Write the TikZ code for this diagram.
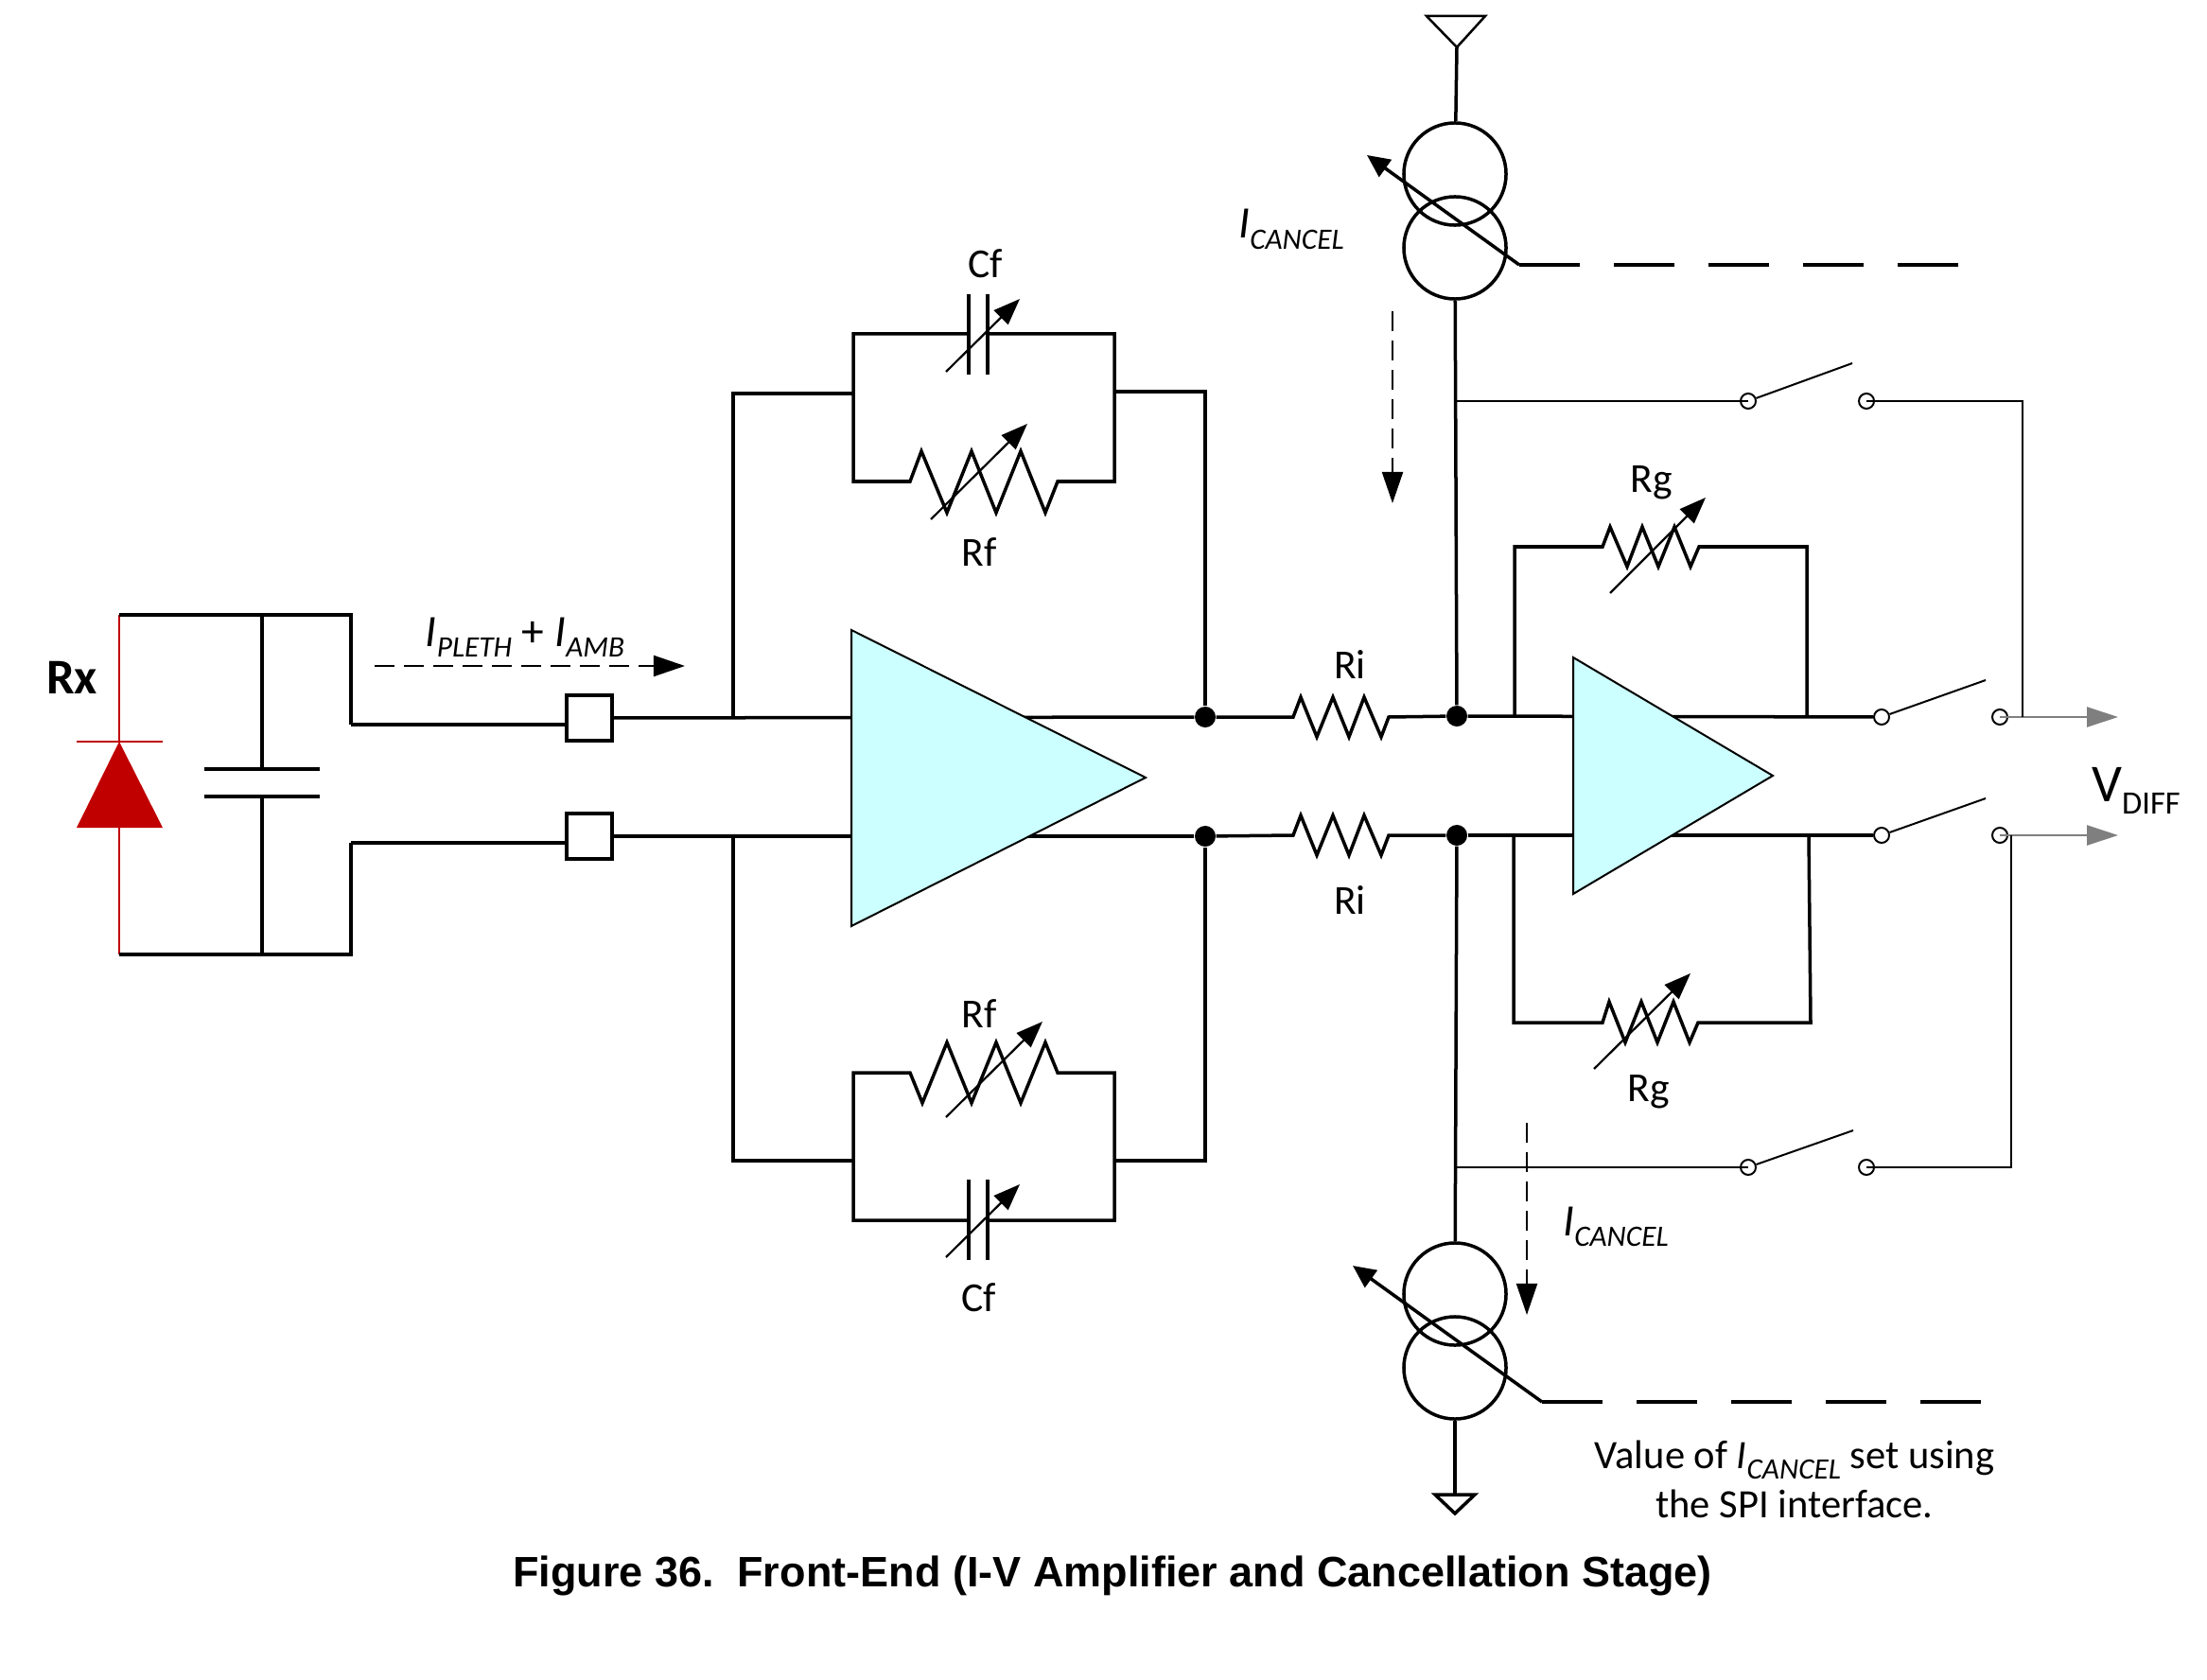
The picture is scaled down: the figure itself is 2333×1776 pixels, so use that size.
\documentclass[tikz,border=0pt]{standalone}
\usepackage{fontspec}
\setmainfont{Carlito}
\newfontfamily\capfont{Liberation Sans}
\usetikzlibrary{arrows.meta}
\definecolor{diodered}{RGB}{192,0,0}
\definecolor{ampcyan}{RGB}{204,255,255}
\definecolor{outgray}{RGB}{127,127,127}
\newcommand{\isub}[2]{\textit{#1}\raisebox{-0.5ex}{\fontsize{8.9}{10}\selectfont\textit{#2}}}
\tikzset{
  wire/.style={line width=.35mm,line join=miter},
  thinwire/.style={line width=.12mm},
  redwire/.style={line width=.25mm,draw=diodered},
  amp/.style={line width=.2mm,fill=ampcyan,line join=miter},
  pad/.style={draw,line width=.35mm,fill=white,minimum width=4.8mm,minimum height=4.8mm,inner sep=0},
  dot/.style={circle,fill=black,minimum size=2.2mm,inner sep=0},
  term/.style={circle,draw,line width=.2mm,fill=white,minimum size=1.6mm,inner sep=0},
  source/.style={circle,draw,line width=.35mm,minimum size=10.8mm,inner sep=0},
  adjust/.style={line width=.22mm,-{Triangle[length=2.8mm,width=2.1mm]}},
  control/.style={line width=.35mm,-{Triangle[length=2.4mm,width=2.2mm]}},
  ctrldash/.style={line width=.35mm,dash pattern=on 6.4mm off 3.6mm},
  current/.style={line width=.2mm,dash pattern=on 2.1mm off 1mm,-{Triangle[length=3.3mm,width=2.2mm]}},
  outarrow/.style={line width=.25mm,draw=outgray,-{Triangle[length=3.3mm,width=2.1mm]}},
  lbl/.style={inner sep=0,anchor=base,font=\fontsize{12.4}{15}\selectfont},
  curlbl/.style={inner sep=0,anchor=base,font=\fontsize{13.5}{16}\selectfont}
}
\begin{document}
\begin{tikzpicture}[x=0.01cm,y=-0.01cm]
    \useasboundingbox (0,0) rectangle (2333,1776);

    \coordinate (tl) at (126,650);
    \coordinate (tr) at (371,650);
    \coordinate (bl) at (126,1009);
    \coordinate (br) at (371,1009);
    \coordinate (w1) at (371,766);
    \coordinate (w2) at (371,891);
    \coordinate (ct) at (277,650);
    \coordinate (cb) at (277,1009);
    \coordinate (c1) at (277,813);
    \coordinate (c2) at (277,842);
    \coordinate (da) at (126,784);
    \coordinate (dk) at (126,875);

    \draw[redwire] (tl) -- (da);
    \draw[redwire] (dk) -- (bl);
    \draw[redwire] (81,784) -- (172,784);
    \fill[diodered] (da) -- (172,875) -- (81,875) -- cycle;
    \draw[wire] (tl) -- (tr) -- (w1);
    \draw[wire] (bl) -- (br) -- (w2);
    \draw[wire] (ct) -- (c1);
    \draw[wire] (cb) -- (c2);
    \draw[wire] (216,813) -- (338,813);
    \draw[wire] (216,842) -- (338,842);

    \node[pad] (p1) at (623,759) {};
    \node[pad] (p2) at (623,884) {};
    \draw[wire] (w1) -- (w1 -| p1.west);
    \draw[wire] (w2) -- (w2 -| p2.west);

    \node[dot] (n1) at (1274,758) {};
    \node[dot] (n2) at (1274,884) {};
    \node[dot] (n3) at (1540,757) {};
    \node[dot] (n4) at (1540,883) {};

    \coordinate (f1) at (775,759);
    \coordinate (f2) at (775,884);
    \draw[wire] (p1) -- (n1);
    \draw[wire] (p2) -- (n2);

    % first stage feedback, top
    \coordinate (a1) at (902,353);
    \coordinate (a2) at (1178,353);
    \coordinate (a3) at (1178,509);
    \coordinate (a4) at (902,509);
    \draw[wire] (1024,353) -- (a1) -- (a4) -- (962,509) -- (974,477) -- (1001,542) -- (1027,477) -- (1053,542) -- (1079,477) -- (1105,542) -- (1118,509) -- (a3) -- (a2) -- (1044,353);
    \draw[wire] (f1) -- (775,416) -- (902,416);
    \draw[wire] (1178,414) -- (1274,414) -- (n1);
    \draw[wire] (1024,311) -- (1024,396);
    \draw[wire] (1044,311) -- (1044,396);
    \coordinate (j1) at (1000,393);
    \coordinate (j2) at (1078,316);
    \draw[adjust] (j1) -- (j2);
    \coordinate (j3) at (984,549);
    \coordinate (j4) at (1086,448);
    \draw[adjust] (j3) -- (j4);

    % first stage feedback, bottom
    \coordinate (b1) at (902,1134);
    \coordinate (b2) at (1178,1134);
    \coordinate (b3) at (1178,1290);
    \coordinate (b4) at (902,1290);
    \draw[wire] (1024,1290) -- (b4) -- (b1) -- (962,1134) -- (975,1166) -- (1001,1102) -- (1027,1166) -- (1053,1102) -- (1079,1166) -- (1105,1102) -- (1118,1134) -- (b2) -- (b3) -- (1044,1290);
    \draw[wire] (f2) -- (775,1227) -- (902,1227);
    \draw[wire] (1178,1227) -- (1274,1227) -- (n2);
    \draw[wire] (1024,1247) -- (1024,1332);
    \draw[wire] (1044,1247) -- (1044,1332);
    \coordinate (j5) at (1000,1329);
    \coordinate (j6) at (1078,1252);
    \draw[adjust] (j5) -- (j6);
    \coordinate (j7) at (1000,1181);
    \coordinate (j8) at (1102,1080);
    \draw[adjust] (j7) -- (j8);

    \draw[amp] (900,666) -- (1211,822) -- (900,979) -- cycle;

    % input resistors
    \draw[wire] (n1) -- (1367,758) -- (1375,737) -- (1392,779) -- (1409,737) -- (1426,779) -- (1442,737) -- (1460,779) -- (1468,758) -- (n3);
    \draw[wire] (n2) -- (1367,883) -- (1375,862) -- (1392,904) -- (1409,862) -- (1426,904) -- (1442,862) -- (1460,904) -- (1468,883) -- (n4);

    % second stage
    \node[term] (s1) at (1989,758) {};
    \node[term] (s2) at (1989,883) {};
    \node[term] (s3) at (2114,758) {};
    \node[term] (s4) at (2114,883) {};
    \draw[wire] (n3) -- (s1);
    \draw[wire] (n4) -- (s2);

    \coordinate (g1) at (1601,758);
    \coordinate (g2) at (1910,758);
    \coordinate (g3) at (1600,883);
    \coordinate (g4) at (1912,883);
    \draw[wire] (g1) -- (1601,578) -- (1694,578) -- (1702,557) -- (1720,599) -- (1736,557) -- (1753,599) -- (1770,557) -- (1787,599) -- (1796,578) -- (1910,578) -- (g2);
    \draw[wire] (g3) -- (1600,1081) -- (1694,1081) -- (1701,1059) -- (1718,1102) -- (1735,1059) -- (1752,1102) -- (1769,1059) -- (1786,1102) -- (1795,1081) -- (1914,1081) -- (g4);
    \coordinate (j9) at (1702,627);
    \coordinate (j10) at (1803,526);
    \draw[adjust] (j9) -- (j10);
    \coordinate (j11) at (1685,1130);
    \coordinate (j12) at (1787,1029);
    \draw[adjust] (j11) -- (j12);

    \draw[amp] (1663,695) -- (1874,820) -- (1663,945) -- cycle;

    \coordinate (k1) at (2099,719);
    \coordinate (k2) at (2099,844);
    \draw[line width=.2mm] (s1) -- (k1);
    \draw[line width=.2mm] (s2) -- (k2);
    \coordinate (o1) at (2239,758);
    \coordinate (o2) at (2239,883);
    \draw[outarrow] (s3.center) -- (o1);
    \draw[outarrow] (s4.center) -- (o2);

    % current sources
    \coordinate (vdd) at (1540,50);
    \draw[line width=.25mm,line join=miter] (vdd) -- (1508,17) -- (1570,17) -- cycle;
    \node[source] (i1) at (1538,184) {};
    \node[source] (i2) at (1538,262) {};
    \node[source] (i3) at (1538,1368) {};
    \node[source] (i4) at (1538,1446) {};
    \coordinate (gnd) at (1538,1580);
    \draw[wire] (vdd) -- (i1);
    \draw[wire] (i2) -- (n3);
    \draw[wire] (n4) -- (i3);
    \draw[wire] (i4) -- (gnd);
    \draw[wire] (gnd) -- (1517,1580) -- (1538,1600) -- (1559,1580) -- cycle;

    \coordinate (q1) at (1445,164);
    \coordinate (q2) at (1606,280);
    \coordinate (q3) at (2070,280);
    \draw[control] (q2) -- (q1);
    \draw[ctrldash] (q2) -- (q3);
    \coordinate (q4) at (1430,1338);
    \coordinate (q5) at (1630,1482);
    \coordinate (q6) at (2095,1482);
    \draw[control] (q5) -- (q4);
    \draw[ctrldash] (q5) -- (q6);

    % cancellation switches
    \node[term] (t1) at (1848,424) {};
    \node[term] (t2) at (1973,424) {};
    \node[term] (t3) at (1848,1234) {};
    \node[term] (t4) at (1973,1234) {};
    \coordinate (h1) at (1538,424);
    \coordinate (h2) at (1540,1234);
    \coordinate (k3) at (1958,384);
    \coordinate (k4) at (1959,1195);
    \draw[thinwire] (h1) -- (t1.center);
    \draw[thinwire] (h2) -- (t3.center);
    \draw[line width=.2mm] (t1) -- (k3);
    \draw[line width=.2mm] (t3) -- (k4);
    \draw[thinwire] (t2.center) -- (2138,424) -- (2138,758);
    \draw[thinwire] (t4.center) -- (2126,1234) -- (2126,883);

    % current directions
    \coordinate (d1) at (396,704);
    \coordinate (d2) at (724,704);
    \draw[current] (d1) -- (d2);
    \coordinate (d3) at (1472,329);
    \coordinate (d4) at (1472,532);
    \draw[current] (d3) -- (d4);
    \coordinate (d5) at (1614,1187);
    \coordinate (d6) at (1614,1390);
    \draw[current] (d5) -- (d6);

    % labels
    \node[lbl,font=\fontsize{15}{18}\selectfont\bfseries] (rx) at (76,733) {Rx};
    \node[curlbl] (iin) at (555,683) {\isub{I}{PLETH} + \isub{I}{AMB}};
    \node[lbl] (cf1) at (1042,294) {Cf};
    \node[lbl] (rf1) at (1035,598) {Rf};
    \node[lbl] (rf2) at (1035,1086) {Rf};
    \node[lbl] (cf2) at (1035,1386) {Cf};
    \node[lbl] (ri1) at (1427,717) {Ri};
    \node[lbl] (ri2) at (1427,966) {Ri};
    \node[lbl] (rg1) at (1746,521) {Rg};
    \node[lbl] (rg2) at (1743,1164) {Rg};
    \node[curlbl] (ic1) at (1365,252) {\isub{I}{CANCEL}};
    \node[curlbl] (ic2) at (1708,1306) {\isub{I}{CANCEL}};
    \node[lbl,font=\fontsize{16}{19}\selectfont] (vd) at (2258,847) {V\raisebox{-0.5ex}{\fontsize{9.8}{11}\selectfont DIFF}};
    \node[inner sep=0,align=center,font=\fontsize{12.1}{14.6}\selectfont] (val) at (1897,1564) {Value of \isub{I}{CANCEL} set using\\the SPI interface.};
    \node[inner sep=0,anchor=base,font=\capfont\bfseries\fontsize{12.8}{15}\selectfont] (cap) at (1176,1677) {Figure 36.\hspace{0.55em}Front-End (I-V Amplifier and Cancellation Stage)};
\end{tikzpicture}
\end{document}
